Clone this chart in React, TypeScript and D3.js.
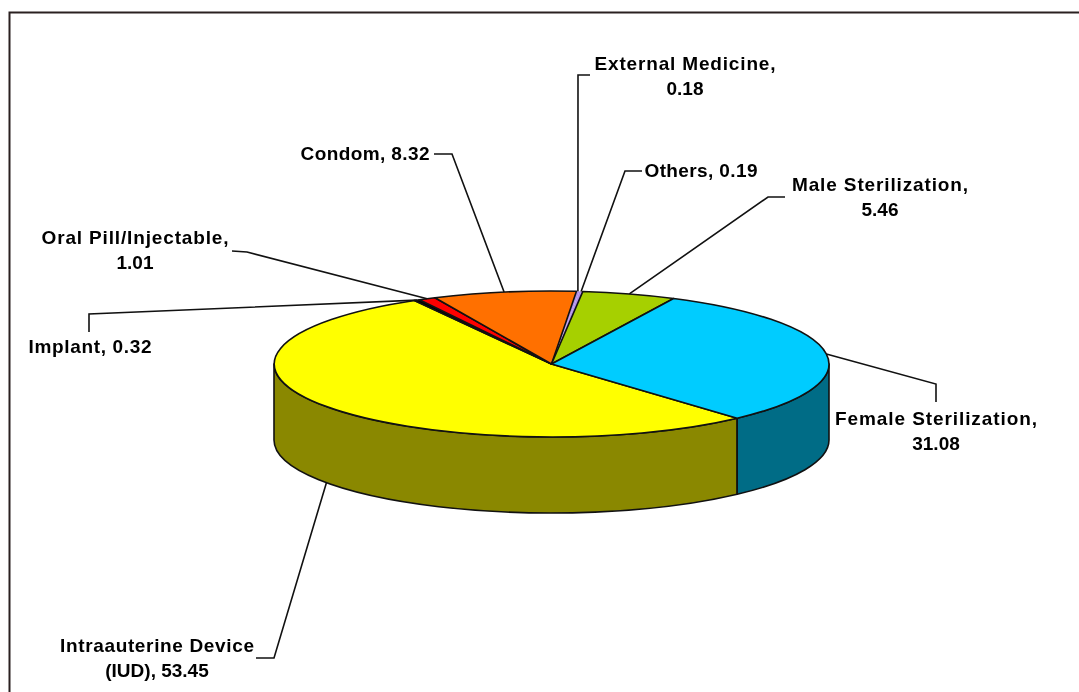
import React from "react";
import * as d3 from "d3";

const categories = ["Intraauterine Device (IUD)", "Implant", "Oral Pill/Injectable", "Condom", "External Medicine", "Others", "Male Sterilization", "Female Sterilization"];
const values = [53.45, 0.32, 1.01, 8.32, 0.18, 0.19, 5.46, 31.08];
const topColors = ["#FFFF00", "#000000", "#FF0000", "#FF7000", "#B090E8", "#B090E8", "#A6D000", "#00CCFF"];
const sideColors = ["#8A8800", "#000000", "#800000", "#803800", "#665080", "#4D3366", "#536800", "#006C86"];
const labelLines = [["Intraauterine Device", "(IUD), 53.45"], ["Implant, 0.32"], ["Oral Pill/Injectable,", "1.01"], ["Condom, 8.32"], ["External Medicine,", "0.18"], ["Others, 0.19"], ["Male Sterilization,", "5.46"], ["Female Sterilization,", "31.08"]];
const labelCenters = [157, 90, 135, 365, 685, 701, 880, 936];
const labelBaselines = [652, 353, 244, 160, 70, 177, 191, 425];
const labelWidths = [194, 123, 187, 129, 181, 113, 176, 202];
const lineGap = 25;
const drawOrder = [4, 5, 0, 1, 2, 3, 6, 7];
const elbows: number[][][] = [
  [[274, 658], [256, 658]],
  [[89, 314], [89, 332]],
  [[247, 252], [232, 251]],
  [[452, 154], [434, 154]],
  [[578, 75], [590, 75]],
  [[625, 171], [642, 171]],
  [[768, 197], [785, 197]],
  [[936, 384], [936, 402]],
];

const cx = 551.5, cy = 364, rx = 277.5, ry = 73, depth = 76;
const FRONT_A = Math.PI / 2, FRONT_B = (3 * Math.PI) / 2;

const pieGen = d3.pie<number>().sort(null).startAngle((138 * Math.PI) / 180).endAngle((138 * Math.PI) / 180 + 2 * Math.PI);
const slices = pieGen(values);
const arcGen = d3.arc<d3.PieArcDatum<number>>().innerRadius(0).outerRadius(1);
const pt = (a: number, dy = 0): [number, number] => [cx + rx * Math.sin(a), cy - ry * Math.cos(a) + dy];

function wall(a0: number, a1: number) {
  // Visible part of the slice's rim, on the front half of the ellipse
  const parts: [number, number][] = [];
  for (const k of [0, 2 * Math.PI]) {
    const s = Math.max(a0 - k, FRONT_A), e = Math.min(a1 - k, FRONT_B);
    if (e > s) parts.push([s, e]);
  }
  return parts.map(([s, e]) => {
    const [x0, y0] = pt(s), [x1, y1] = pt(e), [x2, y2] = pt(e, depth), [x3, y3] = pt(s, depth);
    return `M${x0},${y0}A${rx},${ry} 0 0 1 ${x1},${y1}L${x2},${y2}A${rx},${ry} 0 0 0 ${x3},${y3}Z`;
  }).join("");
}

export default function App() {
  const line = d3.line();
  return (
    <svg width={1079} height={692} style={{ position: "absolute", left: 0, top: 0, background: "#fff" }} fontFamily="'Liberation Sans', Arial, sans-serif">
      <defs>
        <filter id="soft" x="-5%" y="-20%" width="110%" height="140%"><feGaussianBlur stdDeviation="0.4" /></filter>
      </defs>
      <path d="M9.5,692V12.5H1079" fill="none" stroke="#2A2020" strokeWidth={2} />
      {slices.map((s, i) => (
        <path key={"w" + i} d={wall(s.startAngle, s.endAngle)} fill={sideColors[i]} stroke="#111" strokeWidth={1.6} strokeLinejoin="round" />
      ))}
      <g transform={`translate(${cx},${cy}) scale(${rx},${ry})`}>
        {drawOrder.map((i) => (
          <path key={"t" + i} d={arcGen(slices[i]) as string} fill={topColors[i]} stroke={topColors[i] === "#B090E8" ? "none" : "#111"} strokeWidth={1.6} vectorEffect="non-scaling-stroke" strokeLinejoin="round" />
        ))}
      </g>
      {slices.map((s, i) => {
        const mid = (s.startAngle + s.endAngle) / 2;
        const norm = ((mid % (2 * Math.PI)) + 2 * Math.PI) % (2 * Math.PI);
        const start = pt(mid, norm > FRONT_A && norm < FRONT_B ? depth : 0);
        return <path key={"l" + i} d={line([start, ...(elbows[i] as [number, number][])]) as string} fill="none" stroke="#111" strokeWidth={1.6} />;
      })}
      <g filter="url(#soft)">
        {labelLines.map((ls, i) =>
          ls.map((t, j) => (
            <text key={i + "-" + j} x={labelCenters[i]} y={labelBaselines[i] + j * lineGap} textAnchor="middle" fontSize={19} fontWeight={700} fill="#000"
              textLength={j === 0 ? labelWidths[i] : undefined} lengthAdjust="spacing">{t}</text>
          ))
        )}
      </g>
    </svg>
  );
}
